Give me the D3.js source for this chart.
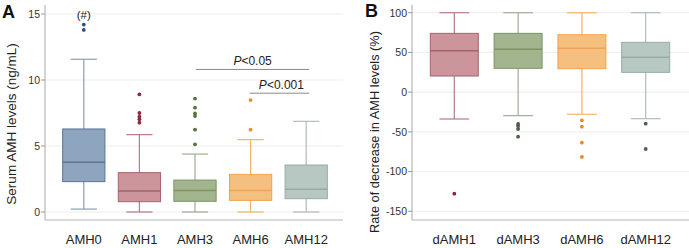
<!DOCTYPE html>
<html>
<head>
<meta charset="utf-8">
<script src="https://cdn.jsdelivr.net/npm/d3@7"></script>
<style>
  html, body { margin: 0; padding: 0; background: #fff; }
  svg { display: block; font-family: "Liberation Sans", Arial, sans-serif; }
</style>
</head>
<body>
<script>
// ---- panel A data (ng/mL) ----
const groupsA = ["AMH0", "AMH1", "AMH3", "AMH6", "AMH12"];
const lowA    = [0.22, 0, 0, 0, 0];
const q1A     = [2.3, 0.78, 0.81, 0.88, 1.01];
const medA    = [3.76, 1.59, 1.62, 1.62, 1.72];
const q3A     = [6.29, 2.98, 2.42, 2.85, 3.56];
const highA   = [11.57, 5.86, 4.39, 5.48, 6.87];
const outA    = [
  [13.79, 14.2],
  [8.91, 7.5, 7.22, 7.02, 6.77],
  [8.59, 7.9, 7.47, 7.27, 6.24, 5.13],
  [8.48, 6.24],
  []
];
const ticksA = [0, 5, 10, 15];

// ---- panel B data (%) ----
const groupsB = ["dAMH1", "dAMH3", "dAMH6", "dAMH12"];
const lowB    = [-33.8, -29.6, -27.9, -33.4];
const q1B     = [20.3, 30, 29.5, 24.9];
const medB    = [52.2, 53.9, 55.1, 43.8];
const q3B     = [74, 74, 72.3, 62.7];
const highB   = [100, 100, 100, 100];
const outB    = [
  [-127.8],
  [-40.1, -42.6, -46.4, -56],
  [-35.5, -43.5, -63.6, -81.6],
  [-39.7, -71.6]
];
const ticksB = [100, 50, 0, -50, -100, -150];

const fills   = {AMH0: "#8ea5c0", AMH1: "#cc949b", AMH3: "#a3b58f", AMH6: "#f5bf80", AMH12: "#b7c8c2"};
const strokes = {AMH0: "#5b7594", AMH1: "#a5626e", AMH3: "#7b9365", AMH6: "#eea450", AMH12: "#96aba4"};
const whisk   = {AMH0: "#8c9fb4", AMH1: "#b87a85", AMH3: "#a3ab96", AMH6: "#f3b46a", AMH12: "#b0bdb8"};
const dots    = {AMH0: "#2d4f78", AMH1: "#8e2b3e", AMH3: "#52733a", AMH6: "#e98f2c", AMH12: "#4d5f5a"};
const fillsB   = ["#cc949b", "#a3b58f", "#f5bf80", "#b7c8c2"];
const strokesB = ["#a5626e", "#7b9365", "#eea450", "#96aba4"];
const whiskB   = ["#b87a85", "#a3ab96", "#f3b46a", "#b0bdb8"];
const dotsB    = ["#8e1f40", "#4b5e48", "#e8892a", "#4d5f5a"];

const W = 689, H = 248;
const svg = d3.select("body").append("svg").attr("width", W).attr("height", H);

function panel(o) {
  const g = svg.append("g");
  const x = d3.scaleBand().domain(o.groups).range(o.xr).paddingInner(o.pin).paddingOuter(o.pin / 2);
  const y = d3.scaleLinear().domain(o.dom).range(o.yr);

  // gridlines
  g.selectAll("line.grid").data(o.ticks).enter().append("line")
    .attr("x1", o.axisX).attr("x2", o.right)
    .attr("y1", d => y(d)).attr("y2", d => y(d))
    .attr("stroke", "#ededed").attr("stroke-width", 1);

  // axes
  g.append("line").attr("x1", o.axisX).attr("x2", o.axisX).attr("y1", o.top).attr("y2", o.bottom)
    .attr("stroke", "#b8b8b8").attr("stroke-width", 1.2);
  g.append("line").attr("x1", o.axisX).attr("x2", o.right).attr("y1", o.bottom).attr("y2", o.bottom)
    .attr("stroke", "#b8b8b8").attr("stroke-width", 1.2);
  g.selectAll("line.tick").data(o.ticks).enter().append("line")
    .attr("x1", o.axisX - 4).attr("x2", o.axisX)
    .attr("y1", d => y(d)).attr("y2", d => y(d))
    .attr("stroke", "#999");
  g.selectAll("text.tick").data(o.ticks).enter().append("text")
    .attr("x", o.axisX - 5).attr("y", d => y(d) + 3.8)
    .attr("text-anchor", "end").attr("font-size", 10.5).attr("fill", "#333")
    .text(d => d);

  // boxes
  const bw = x.bandwidth(), cw = bw * 0.62;
  const box = g.selectAll("g.box").data(o.groups).enter().append("g");
  box.append("line")
    .attr("x1", d => x(d) + bw / 2).attr("x2", d => x(d) + bw / 2)
    .attr("y1", (d, i) => y(o.low[i])).attr("y2", (d, i) => y(o.high[i]))
    .attr("stroke", (d, i) => o.whisk[i]).attr("stroke-width", 1.2);
  box.append("line")
    .attr("x1", d => x(d) + bw / 2 - cw / 2).attr("x2", d => x(d) + bw / 2 + cw / 2)
    .attr("y1", (d, i) => y(o.low[i])).attr("y2", (d, i) => y(o.low[i]))
    .attr("stroke", (d, i) => o.whisk[i]).attr("stroke-width", 1.2);
  box.append("line")
    .attr("x1", d => x(d) + bw / 2 - cw / 2).attr("x2", d => x(d) + bw / 2 + cw / 2)
    .attr("y1", (d, i) => y(o.high[i])).attr("y2", (d, i) => y(o.high[i]))
    .attr("stroke", (d, i) => o.whisk[i]).attr("stroke-width", 1.2);
  box.append("rect")
    .attr("x", d => x(d)).attr("width", bw)
    .attr("y", (d, i) => y(o.q3[i])).attr("height", (d, i) => y(o.q1[i]) - y(o.q3[i]))
    .attr("fill", (d, i) => o.fill[i]).attr("stroke", (d, i) => o.stroke[i]).attr("stroke-width", 1);
  box.append("line")
    .attr("x1", d => x(d)).attr("x2", d => x(d) + bw)
    .attr("y1", (d, i) => y(o.med[i])).attr("y2", (d, i) => y(o.med[i]))
    .attr("stroke", (d, i) => o.stroke[i]).attr("stroke-width", 1.5);
  box.each(function (d, i) {
    d3.select(this).selectAll("circle").data(o.out[i]).enter().append("circle")
      .attr("cx", x(d) + bw / 2).attr("cy", v => y(v)).attr("r", 1.9)
      .attr("fill", o.dot[i]);
  });

  // category labels
  g.selectAll("text.cat").data(o.groups).enter().append("text")
    .attr("x", d => x(d) + bw / 2).attr("y", 244)
    .attr("text-anchor", "middle").attr("font-size", 13).attr("fill", "#222")
    .text(d => d);

  // y title
  g.append("text")
    .attr("transform", `translate(${o.titleX},${o.titleY}) rotate(-90)`)
    .attr("text-anchor", "middle").attr("font-size", o.titleSize).attr("fill", "#222")
    .text(o.title);

  // panel letter
  g.append("text").attr("x", o.letterX).attr("y", o.letterY)
    .attr("font-size", 18).attr("font-weight", "bold").attr("fill", "#111")
    .text(o.letter);

  return {g, x, y};
}

const A = panel({
  groups: groupsA, xr: [56, 334], pin: 0.24, dom: [0, 15], yr: [212, 14],
  axisX: 45, right: 343, top: 5, bottom: 220, ticks: ticksA,
  low: lowA, q1: q1A, med: medA, q3: q3A, high: highA, out: outA,
  fill: groupsA.map(k => fills[k]), stroke: groupsA.map(k => strokes[k]),
  whisk: groupsA.map(k => whisk[k]), dot: groupsA.map(k => dots[k]),
  title: "Serum AMH levels (ng/mL)", titleX: 15.5, titleY: 124, titleSize: 13.5,
  letter: "A", letterX: 2, letterY: 18
});

const B = panel({
  groups: groupsB, xr: [422.4, 677.6], pin: 0.248, dom: [-150, 100], yr: [211.3, 12.7],
  axisX: 412, right: 689, top: 5, bottom: 220, ticks: ticksB,
  low: lowB, q1: q1B, med: medB, q3: q3B, high: highB, out: outB,
  fill: fillsB, stroke: strokesB, whisk: whiskB, dot: dotsB,
  title: "Rate of decrease in AMH levels (%)", titleX: 379, titleY: 132, titleSize: 12.8,
  letter: "B", letterX: 365, letterY: 17
});

// annotations on panel A
const bwA = A.x.bandwidth();
A.g.append("text")
  .attr("x", A.x("AMH0") + bwA / 2).attr("y", 19)
  .attr("text-anchor", "middle").attr("font-size", 11.5).attr("fill", "#222")
  .text("(#)");

const sig = [
  {from: "AMH3", to: "AMH12", label: "<0.05", lineY: 10.8, textY: 11.15},
  {from: "AMH6", to: "AMH12", label: "<0.001", lineY: 9.0, textY: 9.35}
];
sig.forEach(s => {
  const x1 = A.x(s.from) + bwA / 2 + (s.from === "AMH3" ? 1 : -1), x2 = A.x(s.to) + bwA / 2 + 3;
  A.g.append("line")
    .attr("x1", x1).attr("x2", x2)
    .attr("y1", A.y(s.lineY)).attr("y2", A.y(s.lineY))
    .attr("stroke", "#8a8a8a").attr("stroke-width", 1);
  const t = A.g.append("text")
    .attr("x", (x1 + x2) / 2 + (s.from === "AMH6" ? 2 : 0)).attr("y", A.y(s.textY))
    .attr("text-anchor", "middle").attr("font-size", 12).attr("fill", "#222");
  t.append("tspan").attr("font-style", "italic").text("P");
  t.append("tspan").text(s.label);
});
</script>
</body>
</html>
